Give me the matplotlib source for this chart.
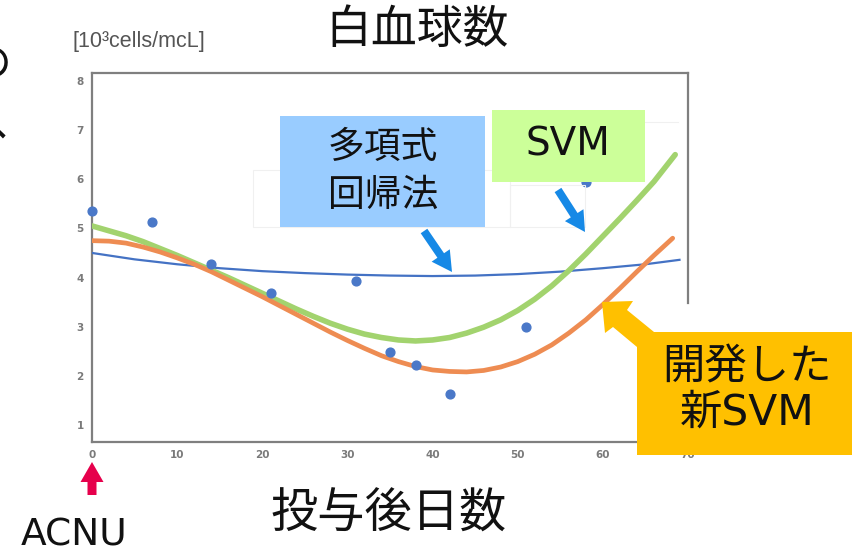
import matplotlib
matplotlib.use('Agg')
import matplotlib.pyplot as plt
from matplotlib.patches import Polygon, Rectangle
import numpy as np

plt.rcParams['font.family'] = ['Noto Sans CJK JP', 'DejaVu Sans']

# ---- data ----
days = [0, 7, 14, 21, 31, 35, 38, 42, 51, 58]
wbc = [5.35, 5.13, 4.28, 3.68, 3.93, 2.49, 2.23, 1.64, 3.0, 5.95]

poly_x = [0, 5, 10, 15, 20, 25, 30, 35, 40, 45, 50, 55, 60, 65, 69]
poly_y = [4.50, 4.37, 4.27, 4.19, 4.13, 4.09, 4.06, 4.04, 4.03, 4.04, 4.07, 4.12, 4.19, 4.27, 4.36]

svm_x = [0, 2, 4, 6, 8, 10, 12, 14, 16, 18, 20, 22, 24, 26, 28, 30, 32, 34, 36, 38,
         40, 42, 44, 46, 48, 50, 52, 54, 56, 58, 60, 62, 64, 66, 68.5]
svm_y = [5.05, 4.95, 4.85, 4.73, 4.59, 4.45, 4.30, 4.15, 4.00, 3.84, 3.68, 3.52, 3.36,
         3.21, 3.07, 2.95, 2.85, 2.78, 2.73, 2.71, 2.73, 2.78, 2.87, 2.99, 3.14, 3.33,
         3.56, 3.83, 4.14, 4.48, 4.84, 5.20, 5.57, 5.95, 6.50]

new_x = [0, 2, 4, 6, 8, 10, 12, 14, 16, 18, 20, 22, 24, 26, 28, 30, 32, 34, 36, 38,
         40, 42, 44, 46, 48, 50, 52, 54, 56, 58, 60, 62, 64, 66, 68.2]
new_y = [4.75, 4.74, 4.70, 4.62, 4.52, 4.40, 4.27, 4.12, 3.95, 3.78, 3.61, 3.43, 3.25,
         3.07, 2.89, 2.72, 2.56, 2.41, 2.29, 2.19, 2.12, 2.09, 2.08, 2.11, 2.18, 2.29,
         2.44, 2.63, 2.87, 3.14, 3.45, 3.78, 4.12, 4.45, 4.80]

x_ticks = [0, 10, 20, 30, 40, 50, 60, 70]
y_ticks = [1, 2, 3, 4, 5, 6, 7, 8]

title = '白血球数'
xlabel = '投与後日数'
ylabel = '[10³cells/mcL]'
poly_label = '多項式\n回帰法'
svm_label = 'SVM'
new_label = '開発した\n新SVM'
drug_label = 'ACNU'

W, H = 852, 555
fig = plt.figure(figsize=(W / 100, H / 100), dpi=100)
fig.patch.set_facecolor('white')

# main axes
L, R, T, B = 92, 688, 73, 442
ax = fig.add_axes([L / W, 1 - B / H, (R - L) / W, (B - T) / H])
ax.set_xlim(0, 70)
ax.set_ylim(0.655, 8.16)
ax.set_xticks(x_ticks)
ax.set_yticks(y_ticks)
ax.tick_params(length=0, labelsize=7.5, labelcolor='#7a7a7a', pad=6)
for lab in ax.get_xticklabels() + ax.get_yticklabels():
    lab.set_fontweight('bold')
    lab.set_family('DejaVu Sans')
for sp in ax.spines.values():
    sp.set_color('#7f7f7f')
    sp.set_linewidth(1.6)
ax.spines['right'].set_bounds(3.48, 8.16)

ax.plot(poly_x, poly_y, color='#4472C4', lw=1.6, zorder=3)
ax.plot(svm_x, svm_y, color='#A2D36E', lw=4.0, zorder=3,
        solid_capstyle='round', solid_joinstyle='round')
ax.plot(new_x, new_y, color='#EE8C52', lw=3.4, zorder=4,
        solid_capstyle='round', solid_joinstyle='round')
ax.scatter(days, wbc, s=40, color='#4A78C8', zorder=5, clip_on=False)

# overlay in pixel coordinates
ov = fig.add_axes([0, 0, 1, 1], zorder=5)
ov.set_xlim(0, W)
ov.set_ylim(H, 0)
ov.axis('off')
ov.patch.set_alpha(0)


def arrow_poly(x0, y0, x1, y1, sw, hw, hl):
    d = np.array([x1 - x0, y1 - y0], float)
    ln = np.hypot(*d)
    u = d / ln
    n = np.array([-u[1], u[0]])
    p0 = np.array([x0, y0], float)
    p1 = np.array([x1, y1], float)
    b = p1 - u * hl
    pts = [p0 + n * sw / 2, b + n * sw / 2, b + n * hw / 2, p1,
           b - n * hw / 2, b - n * sw / 2, p0 - n * sw / 2]
    return pts


# faint background rectangles
ov.add_patch(Rectangle((253, 170), 257, 57, fill=False, ec='#f0f0f0', lw=0.8, zorder=0.5))
ov.add_patch(Rectangle((510, 185), 75, 42, fill=False, ec='#f0f0f0', lw=0.8, zorder=0.5))
ov.plot([540, 678], [122, 122], color='#f0f0f0', lw=0.8, zorder=0.5)

# blue box
ov.add_patch(Rectangle((280, 116), 205, 111, color='#99CCFF', lw=0, zorder=2))
ov.text(383, 171, poly_label, ha='center', va='center', fontsize=26.5,
        linespacing=1.3, color='#111111', zorder=3)
# green box
ov.add_patch(Rectangle((492, 110), 153, 72, color='#CCFF99', lw=0, zorder=2))
ov.text(568, 145, svm_label, ha='center', va='center', fontsize=28, color='#111111',
        family=['DejaVu Sans', 'Noto Sans CJK JP'], zorder=3)

# blue arrows
ov.add_patch(Polygon(arrow_poly(424, 231, 452, 272, 8, 22, 20), closed=True,
                     color='#1689E6', lw=0, zorder=2))
ov.add_patch(Polygon(arrow_poly(558, 190, 585, 232, 8, 22, 20), closed=True,
                     color='#1689E6', lw=0, zorder=2))

# orange callout
callout = [(602, 302), (633, 301), (627, 310), (654, 332), (W + 5, 332), (W + 5, 455),
           (637, 455), (637, 347), (613, 327), (605, 333)]
ov.add_patch(Polygon(callout, closed=True, color='#FFC000', lw=0, zorder=2))
ov.text(747, 390, new_label, ha='center', va='center', fontsize=30.5,
        linespacing=1.1, color='#111111', family=['DejaVu Sans', 'Noto Sans CJK JP'],
        zorder=3)

# titles
ov.text(417, 30, title, ha='center', va='center', fontsize=33, color='#111111')
ov.text(389, 514, xlabel, ha='center', va='center', fontsize=34, color='#111111')
ov.text(73, 42, ylabel, ha='left', va='center', fontsize=15.5, color='#555555',
        family='Liberation Sans')

# ACNU marker
ov.add_patch(Polygon(arrow_poly(92, 495, 92, 462, 9, 23, 20), closed=True,
                     color='#E6004C', lw=0, zorder=2))
ov.text(74, 535, drug_label, ha='center', va='center', fontsize=27, color='#111111',
        family=['DejaVu Sans', 'Noto Sans CJK JP'])

# cropped slide text at left edge
ov.text(-10, 65, 'の', ha='center', va='center', fontsize=30, color='#111111')
ov.text(-14, 128, 'へ', ha='center', va='center', fontsize=30, color='#111111')

fig.savefig('out.png', dpi=100)
